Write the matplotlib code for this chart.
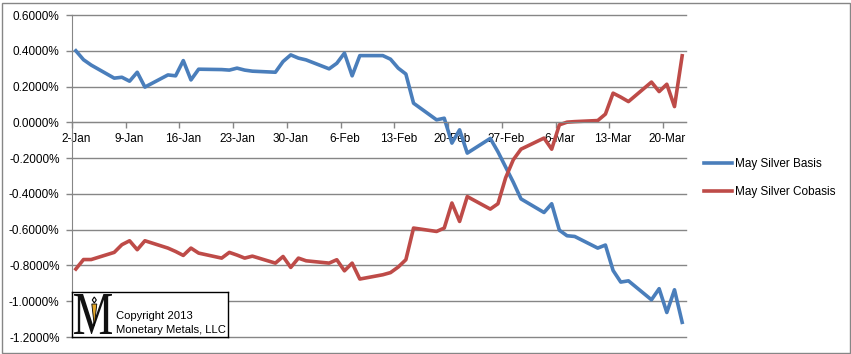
import pandas as pd
import numpy as np
import matplotlib
matplotlib.use("Agg")
import matplotlib.pyplot as plt
from matplotlib.patches import Rectangle, Polygon, PathPatch
from matplotlib.textpath import TextPath
from matplotlib.font_manager import FontProperties
from matplotlib.transforms import Affine2D

plt.rcParams['font.family'] = ['Liberation Sans', 'DejaVu Sans']

# trading days, 2 Jan - 22 Mar 2013
dates = pd.bdate_range("2013-01-02", "2013-03-22")

# May silver basis / cobasis, in percent
basis = [
    0.400, 0.350, 0.320,
    0.247, 0.252, 0.230, 0.280, 0.197,
    0.265, 0.260, 0.345, 0.237, 0.297,
    0.295, 0.292, 0.303, 0.292, 0.286,
    0.280, 0.340, 0.377, 0.359, 0.349,
    0.299, 0.330, 0.387, 0.260, 0.373,
    0.373, 0.353, 0.303, 0.270, 0.107,
    0.014, 0.023, -0.116, -0.042, -0.172,
    -0.090, -0.165, -0.250, -0.335, -0.428,
    -0.504, -0.455, -0.603, -0.634, -0.638,
    -0.703, -0.686, -0.828, -0.893, -0.886,
    -0.992, -0.930, -1.063, -0.936, -1.118,
]
cobasis = [
    -0.820, -0.767, -0.767,
    -0.727, -0.684, -0.662, -0.712, -0.662,
    -0.703, -0.722, -0.744, -0.703, -0.731,
    -0.759, -0.727, -0.742, -0.759, -0.748,
    -0.787, -0.750, -0.811, -0.759, -0.774,
    -0.787, -0.768, -0.830, -0.787, -0.876,
    -0.852, -0.840, -0.809, -0.768, -0.591,
    -0.610, -0.591, -0.451, -0.554, -0.415,
    -0.485, -0.455, -0.310, -0.209, -0.150,
    -0.088, -0.150, -0.014, 0.001, 0.004,
    0.010, 0.046, 0.163, 0.141, 0.116,
    0.225, 0.172, 0.213, 0.088, 0.372,
]

tick_labels = ["2-Jan", "9-Jan", "16-Jan", "23-Jan", "30-Jan", "6-Feb",
               "13-Feb", "20-Feb", "27-Feb", "6-Mar", "13-Mar", "20-Mar"]
y_ticks = [-1.2, -1.0, -0.8, -0.6, -0.4, -0.2, 0.0, 0.2, 0.4, 0.6]

blue = "#4A7EBB"
red = "#BE4B48"
grid = "#868686"

days = np.array((dates - dates[0]).days)
tick_days = [(pd.Timestamp(f"2013-{lbl.split('-')[1]}-{lbl.split('-')[0]}") - dates[0]).days
             for lbl in tick_labels]

W, H = 851, 354
fig = plt.figure(figsize=(W / 100, H / 100), dpi=100)
ax = fig.add_axes([72 / W, 17 / H, 614 / W, 322 / H])

ax.plot(days, basis, color=blue, lw=2.6, label="May Silver Basis")
ax.plot(days, cobasis, color=red, lw=2.6, label="May Silver Cobasis")

ax.set_xlim(-0.5, 79.5)
ax.set_ylim(-1.2, 0.6)
ax.set_yticks(y_ticks)
ax.set_yticklabels([f"{v:.4f}%" for v in y_ticks], fontsize=8.5)
ax.tick_params(axis="y", length=4, color=grid, pad=5, width=1)
ax.grid(axis="y", color=grid, lw=1)
ax.set_axisbelow(True)
for gl in ax.get_ygridlines():
    gl.set_clip_on(False)

# category axis crossing at zero, labels centred on the day slot
ax.spines["bottom"].set_position(("data", 0))
ax.spines["bottom"].set_color(grid)
ax.spines["left"].set_color(grid)
ax.spines["top"].set_visible(False)
ax.spines["right"].set_visible(False)
ax.set_xticks([d - 0.5 for d in tick_days])
ax.set_xticklabels([])
ax.set_xticks(tick_days, minor=True)
ax.set_xticklabels(tick_labels, minor=True, fontsize=8.5)
ax.tick_params(axis="x", which="major", length=4.5, color=grid, width=1)
ax.tick_params(axis="x", which="minor", length=0, pad=7.5)

ax.legend(loc="upper left", bbox_to_anchor=(704 / W, 1 - 158 / H),
          bbox_transform=fig.transFigure, frameon=False, fontsize=8.5,
          handlelength=2.4, handletextpad=0.2, labelspacing=1.38,
          borderpad=0, borderaxespad=0)

# logo box
lax = fig.add_axes([72 / W, 17 / H, 156 / W, 44.7 / H])
lax.set_xlim(0, 156)
lax.set_ylim(0, 44.7)
lax.set_xticks([])
lax.set_yticks([])
lax.set_facecolor("white")
for s in lax.spines.values():
    s.set_color("black")
    s.set_linewidth(1)

tp = TextPath((0, 0), "M", size=1, prop=FontProperties(family="Liberation Serif"))
ext = tp.get_extents()
tr = (Affine2D().translate(-ext.x0, -ext.y0).scale(38 / ext.width, 40 / ext.height)
      .translate(2, 3) + lax.transData)
lax.add_patch(PathPatch(tp, transform=tr, facecolor="#111111", edgecolor="none"))
lax.add_patch(Polygon([(19.8, 33), (24.8, 33), (22.3, 11)], closed=True,
                      facecolor="#E3A628", edgecolor="black", lw=0.6, zorder=3))
lax.add_patch(Polygon([(22.3, 40), (24.3, 37), (22.3, 34), (20.3, 37)], closed=True,
                      facecolor="white", edgecolor="black", lw=0.8, zorder=3))
lax.text(44, 21.3, "Copyright 2013", va="center", ha="left", fontsize=8.1)
lax.text(44, 7, "Monetary Metals, LLC", va="center", ha="left", fontsize=8.1)

fig.add_artist(Rectangle((1.5 / W, 1.5 / H), 848 / W, 350 / H, transform=fig.transFigure,
                         fill=False, edgecolor=grid, lw=1))

fig.savefig("out.png", dpi=100)
